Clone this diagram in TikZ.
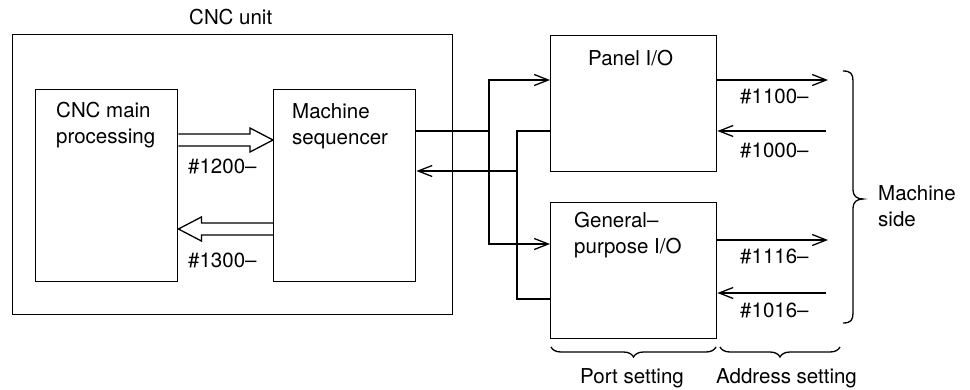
\documentclass[tikz,border=0pt]{standalone}
\usepackage{fontspec}
\setmainfont{TeX Gyre Heros}
\usetikzlibrary{arrows.meta,calc,decorations.pathreplacing}
\begin{document}
\begin{tikzpicture}[x=1pt,y=-1pt,
  boxn/.style={draw,line width=1.4pt,inner sep=0,anchor=north west},
  txt/.style={inner sep=0,align=left,font=\fontsize{20.5pt}{26pt}\selectfont},
  conn/.style={line width=1.3pt},
  arr/.style={line width=1.3pt,-{Straight Barb[length=14pt,width=11pt,line width=1.3pt]}},
  hollow/.style={line width=1.3pt,line join=miter},
  bracel/.style={line width=1.3pt,decorate}]
\useasboundingbox (0,0) rectangle (970,389);
% boxes
\node[boxn,minimum width=440pt,minimum height=280pt] (cnc) at (12,34) {};
\node[boxn,minimum width=142pt,minimum height=192pt] (main) at (35,89) {};
\node[boxn,minimum width=142pt,minimum height=192pt] (seq) at (273,89) {};
\node[boxn,minimum width=166pt,minimum height=136pt] (panel) at (550,35) {};
\node[boxn,minimum width=166pt,minimum height=136pt] (gen) at (550,202) {};
% texts
\node[txt,anchor=base west] (cnclbl) at (189,24) {CNC unit};
\node[txt,anchor=north west] (maintxt) at (56,102) {CNC main\\processing};
\node[txt,anchor=north west] (seqtxt) at (292,103) {Machine\\sequencer};
\node[txt,anchor=base west] (paneltxt) at (588,65) {Panel I/O};
\node[txt,anchor=north west] (gentxt) at (574,212) {General–\\purpose I/O};
\node[txt,anchor=base west] (l1200) at (188,173) {\#1200–};
\node[txt,anchor=base west] (l1300) at (188,267) {\#1300–};
\node[txt,anchor=base west] (l1100) at (740,103) {\#1100–};
\node[txt,anchor=base west] (l1000) at (740,157) {\#1000–};
\node[txt,anchor=base west] (l1116) at (740,263) {\#1116–};
\node[txt,anchor=base west] (l1016) at (740,317) {\#1016–};
\node[txt,anchor=north west] (mside) at (878,185) {Machine\\side};
\node[txt,anchor=base west] (port) at (580,383) {Port setting};
\node[txt,anchor=base west] (addr) at (716,383) {Address setting};
% hollow arrows
\draw[hollow] ($(main.north east)+(0,45)$) -- ($(seq.north west)+(-23,45)$)
  -- ($(seq.north west)+(-23,39)$) -- ($(seq.north west)+(0,51)$)
  -- ($(seq.north west)+(-23,63)$) -- ($(seq.north west)+(-23,57)$)
  -- ($(main.north east)+(0,57)$);
\draw[hollow] ($(seq.north west)+(0,134)$) -- ($(main.north east)+(23,134)$)
  -- ($(main.north east)+(23,128)$) -- ($(main.north east)+(0,140)$)
  -- ($(main.north east)+(23,152)$) -- ($(main.north east)+(23,146)$)
  -- ($(seq.north west)+(0,146)$);
% ports
\coordinate (sq1) at ($(seq.north east)+(0,42)$);
\coordinate (sq2) at ($(seq.north east)+(0,82)$);
\coordinate (pl1) at ($(panel.north west)+(0,45)$);
\coordinate (pl2) at ($(panel.north west)+(0,96)$);
\coordinate (pr1) at ($(panel.north east)+(0,45)$);
\coordinate (pr2) at ($(panel.north east)+(0,96)$);
\coordinate (gl1) at ($(gen.north west)+(0,42)$);
\coordinate (gl2) at ($(gen.north west)+(0,97)$);
\coordinate (gr1) at ($(gen.north east)+(0,38)$);
\coordinate (gr2) at ($(gen.north east)+(0,91)$);
\coordinate (ja) at (489,131);
\coordinate (jb) at (517,171);
\coordinate (po1) at (828,80);
\coordinate (pi1) at (826,131);
\coordinate (go1) at (828,240);
\coordinate (gi1) at (826,293);
% connectors
\draw[conn] (sq1) -- (ja);
\draw[arr] (ja) |- (pl1);
\draw[arr] (ja) |- (gl1);
\draw[conn] (pl2) -| (jb) |- (gl2);
\draw[arr] (jb) -- (sq2);
\draw[arr] (pr1) -- (po1);
\draw[arr] (pi1) -- (pr2);
\draw[arr] (gr1) -- (go1);
\draw[arr] (gi1) -- (gr2);
% braces
\draw[conn] (843,71) .. controls (851,71) and (853,74) .. (853,81)
  -- (853,190) .. controls (853,196) and (857,199) .. (863,199)
  .. controls (857,199) and (853,202) .. (853,208)
  -- (853,313) .. controls (853,320) and (851,323) .. (843,323);
\draw[bracel,decoration={brace,mirror,amplitude=10pt}] (551,347) -- (716,347);
\draw[bracel,decoration={brace,mirror,amplitude=10pt}] (720,347) -- (840,347);
\end{tikzpicture}
\end{document}
